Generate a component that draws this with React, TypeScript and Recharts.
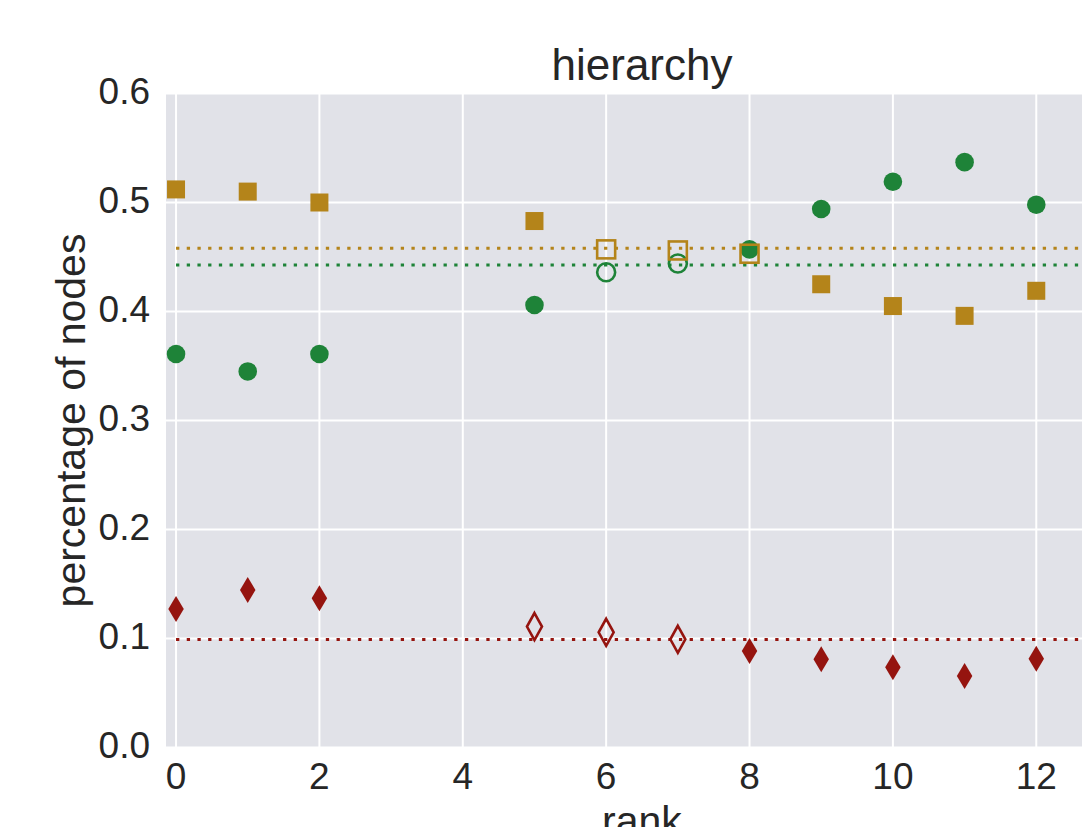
import React from 'react';
import {
  ScatterChart,
  Scatter,
  XAxis,
  YAxis,
  CartesianGrid,
  ReferenceLine,
  Customized,
} from 'recharts';

// ---- data ----
const greenFilledRanks = [0, 1, 2, 5, 8, 9, 10, 11, 12];
const greenFilledValues = [0.361, 0.345, 0.361, 0.406, 0.457, 0.494, 0.519, 0.537, 0.498];
const greenOpenRanks = [6, 7];
const greenOpenValues = [0.436, 0.444];

const goldFilledRanks = [0, 1, 2, 5, 9, 10, 11, 12];
const goldFilledValues = [0.512, 0.51, 0.5, 0.483, 0.425, 0.405, 0.396, 0.419];
const goldOpenRanks = [6, 7, 8];
const goldOpenValues = [0.457, 0.456, 0.453];

const redFilledRanks = [0, 1, 2, 8, 9, 10, 11, 12];
const redFilledValues = [0.127, 0.1445, 0.137, 0.0885, 0.081, 0.0736, 0.0656, 0.0815];
const redOpenRanks = [5, 6, 7];
const redOpenValues = [0.111, 0.1057, 0.0993];

const goldMean = 0.458;
const greenMean = 0.4427;
const redMean = 0.099;

const xTicks = [0, 2, 4, 6, 8, 10, 12];
const yTicks = [0, 0.1, 0.2, 0.3, 0.4, 0.5, 0.6];
const xDomain: [number, number] = [-0.14, 13.14];
const yDomain: [number, number] = [0, 0.6];

const titleText = 'hierarchy';
const xLabelText = 'rank';
const yLabelText = 'percentage of nodes';

// ---- styles ----
const GREEN = '#1E8338';
const GOLD = '#B4841A';
const RED = '#95140F';
const BG = '#E1E2E8';
const TEXT = '#262626';
const FONT = '"Liberation Sans", Arial, sans-serif';

const zip = (xs: number[], ys: number[]) => xs.map((x, i) => ({ x, y: ys[i] }));

const greenFilled = zip(greenFilledRanks, greenFilledValues);
const greenOpen = zip(greenOpenRanks, greenOpenValues);
const goldFilled = zip(goldFilledRanks, goldFilledValues);
const goldOpen = zip(goldOpenRanks, goldOpenValues);
const redFilled = zip(redFilledRanks, redFilledValues);
const redOpen = zip(redOpenRanks, redOpenValues);

const SW = 2.6;

const circleShape = (color: string, open: boolean) => (p: any) => (
  <circle
    cx={p.cx}
    cy={p.cy}
    r={open ? 9 : 9.3}
    fill={open ? 'none' : color}
    stroke={open ? color : 'none'}
    strokeWidth={open ? SW : 0}
  />
);

const squareShape = (color: string, open: boolean) => (p: any) => {
  const s = 18;
  return (
    <rect
      x={p.cx - s / 2}
      y={p.cy - s / 2}
      width={s}
      height={s}
      fill={open ? 'none' : color}
      stroke={open ? color : 'none'}
      strokeWidth={open ? SW : 0}
    />
  );
};

const diamondShape = (color: string, open: boolean) => (p: any) => {
  const w = open ? 15 : 15.5;
  const h = open ? 27 : 26;
  const d = `M${p.cx},${p.cy - h / 2} L${p.cx + w / 2},${p.cy} L${p.cx},${p.cy + h / 2} L${p.cx - w / 2},${p.cy} Z`;
  return (
    <path
      d={d}
      fill={open ? 'none' : color}
      stroke={open ? color : 'none'}
      strokeWidth={open ? SW : 0}
    />
  );
};

const W = 1200;
const H = 880;
const PLOT_LEFT = 166;
const PLOT_TOP = 93.5;
const PLOT_RIGHT = 1118;
const PLOT_BOTTOM = 747.5;
const X_AXIS_H = 100;

const Title = () => (
  <text
    x={(PLOT_LEFT + PLOT_RIGHT) / 2}
    y={80}
    textAnchor="middle"
    fontFamily={FONT}
    fontSize={44}
    fill={TEXT}
  >
    {titleText}
  </text>
);

const meanLine = (v: number, color: string) => (
  <ReferenceLine
    segment={[
      { x: 0, y: v },
      { x: xDomain[1], y: v },
    ]}
    stroke={color}
    strokeWidth={3}
    strokeDasharray="3.3 7.4"
    ifOverflow="hidden"
  />
);

export default function App() {
  const tickStyle = { fontFamily: FONT, fontSize: 37, fill: TEXT };
  return (
    <div
      style={{
        position: 'fixed',
        left: 0,
        top: 0,
        width: 1082,
        height: 827,
        overflow: 'hidden',
        background: '#fff',
      }}
    >
      <ScatterChart
        width={W}
        height={H}
        margin={{
          top: PLOT_TOP,
          right: W - PLOT_RIGHT,
          left: 0,
          bottom: H - PLOT_BOTTOM - X_AXIS_H,
        }}
      >
        <CartesianGrid
          fill={BG}
          stroke="#FFFFFF"
          strokeWidth={2}
          horizontalValues={yTicks}
          verticalValues={xTicks}
        />
        <XAxis
          type="number"
          dataKey="x"
          domain={xDomain}
          ticks={xTicks}
          allowDataOverflow
          axisLine={false}
          tickLine={false}
          tickSize={0}
          tickMargin={15}
          height={X_AXIS_H}
          tick={tickStyle}
          label={{
            value: xLabelText,
            position: 'insideTop',
            offset: 58,
            style: { fontFamily: FONT, fontSize: 41, fill: TEXT },
          }}
        />
        <YAxis
          type="number"
          dataKey="y"
          domain={yDomain}
          ticks={yTicks}
          allowDataOverflow
          axisLine={false}
          tickLine={false}
          tickSize={0}
          tickMargin={16}
          width={PLOT_LEFT}
          tick={{ ...tickStyle, dy: -3 }}
          tickFormatter={(v: number) => v.toFixed(1)}
          label={{
            value: yLabelText,
            angle: -90,
            position: 'insideLeft',
            offset: 70,
            style: { fontFamily: FONT, fontSize: 41, fill: TEXT, textAnchor: 'middle' },
          }}
        />
        <Scatter data={greenFilled} shape={circleShape(GREEN, false)} isAnimationActive={false} />
        <Scatter data={greenOpen} shape={circleShape(GREEN, true)} isAnimationActive={false} />
        <Scatter data={goldFilled} shape={squareShape(GOLD, false)} isAnimationActive={false} />
        <Scatter data={goldOpen} shape={squareShape(GOLD, true)} isAnimationActive={false} />
        <Scatter data={redFilled} shape={diamondShape(RED, false)} isAnimationActive={false} />
        <Scatter data={redOpen} shape={diamondShape(RED, true)} isAnimationActive={false} />
        {meanLine(goldMean, GOLD)}
        {meanLine(greenMean, GREEN)}
        {meanLine(redMean, RED)}
        <Customized component={Title} />
      </ScatterChart>
    </div>
  );
}
